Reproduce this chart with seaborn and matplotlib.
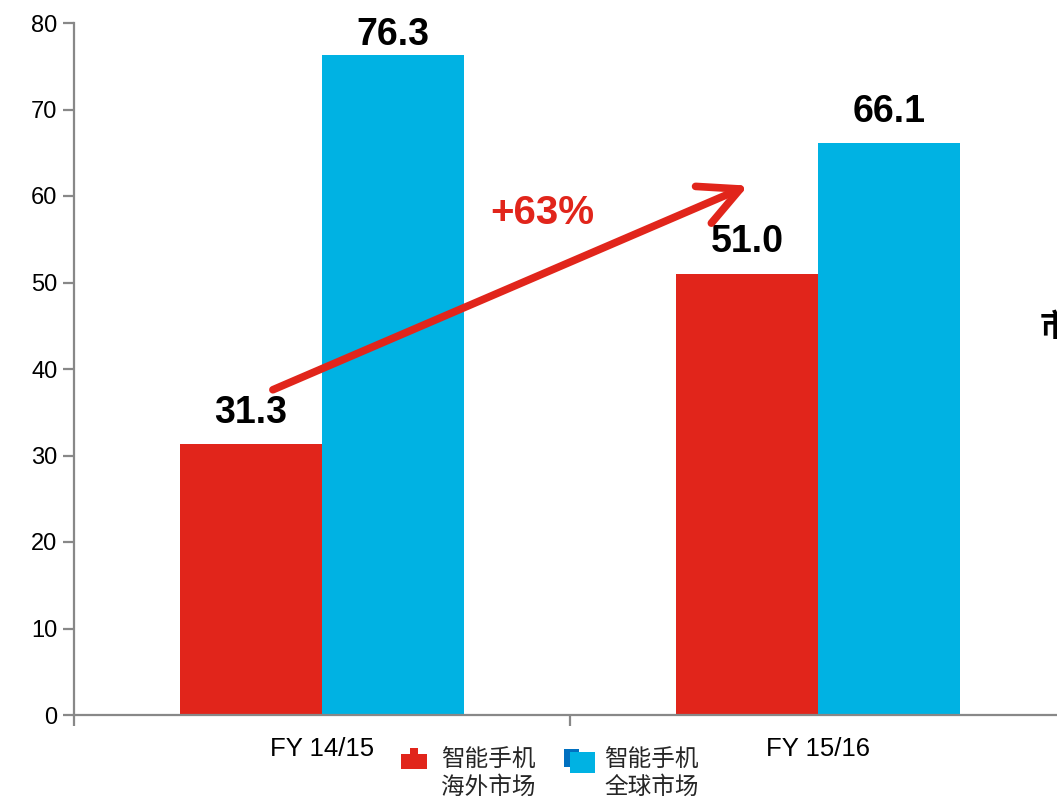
import matplotlib
matplotlib.use("Agg")
import matplotlib.pyplot as plt
import seaborn as sns
import pandas as pd
from matplotlib.patches import Patch, Rectangle
from matplotlib.legend_handler import HandlerBase

categories = ["FY 14/15", "FY 15/16"]
series = ["智能手机\n海外市场", "智能手机\n全球市场"]
overseas = [31.3, 51.0]
global_mkt = [76.3, 66.1]
growth_label = "+63%"
colors = ["#E1251B", "#00B2E3"]
shadow_colors = ["#E1251B", "#0070C0"]

sns.set_theme(style="white")
plt.rcParams["font.family"] = ["Liberation Sans", "Noto Sans CJK SC", "DejaVu Sans"]

df = pd.DataFrame({
    "cat": categories * 2,
    "series": [series[0]] * 2 + [series[1]] * 2,
    "value": overseas + global_mkt,
})

fig = plt.figure(figsize=(10.57, 7.98), dpi=100)
ax = fig.add_axes([74 / 1057, 83 / 798, 992 / 1057, 692 / 798])
sns.barplot(data=df, x="cat", y="value", hue="series", hue_order=series,
            order=categories, palette=colors, width=0.572, saturation=1,
            ax=ax, legend=False, linewidth=0, edgecolor="none")

ax.set_xlim(-0.5, 1.5)
ax.set_ylim(0, 80)
ax.set_yticks(range(0, 81, 10))
ax.set_xlabel("")
ax.set_ylabel("")
for s in ["top", "right"]:
    ax.spines[s].set_visible(False)
for s in ["left", "bottom"]:
    ax.spines[s].set_color("#888888")
    ax.spines[s].set_linewidth(1.6)
ax.tick_params(axis="y", direction="out", length=8, width=1.6, color="#888888",
               labelsize=17, pad=4, left=True, labelcolor="black")
ax.tick_params(axis="x", which="major", length=0, labelsize=18.5, pad=16,
               labelcolor="black")
ax.set_xticks([-0.5, 0.5, 1.5], minor=True)
ax.tick_params(axis="x", which="minor", direction="out", length=8, width=1.6,
               color="#888888", bottom=True)
ax.set_facecolor("none")

# value labels
for cont in ax.containers:
    for bar in cont:
        h = bar.get_height()
        xc = bar.get_x() + bar.get_width() / 2
        yb = min(h + 2.5, 77.45)
        ax.text(xc, yb, f"{h:.1f}", ha="center", va="baseline", fontsize=27,
                fontweight="bold", color="black", clip_on=False)

# growth arrow
ax.annotate("", xy=(0.859, 61.2), xytext=(-0.099, 37.6),
            arrowprops=dict(arrowstyle="->,head_length=2.4,head_width=1.2",
                            color=colors[0], lw=5.5, shrinkA=0, shrinkB=0))
ax.text(0.444, 58.0, growth_label, ha="center", va="center", fontsize=29,
        fontweight="bold", color=colors[0])

fig.text(1040 / 1057, 0.59, "市", ha="left", va="center", fontsize=22,
         fontweight="bold", color="black", family=["Noto Sans CJK SC"])


class TopHandler(HandlerBase):
    def __init__(self, color, shadow, kind):
        super().__init__()
        self.color = color
        self.shadow = shadow
        self.kind = kind

    def create_artists(self, legend, orig_handle, xdescent, ydescent, width,
                       height, fontsize, trans):
        up = fontsize * 0.58
        x0, y0 = -xdescent, -ydescent + up
        arts = []
        if self.kind == "red":
            arts.append(Rectangle((x0 + width * 0.32, y0 + height), width * 0.32,
                                  height * 0.35, facecolor=self.shadow,
                                  edgecolor="none", transform=trans))
            arts.append(Rectangle((x0, y0), width, height, facecolor=self.color,
                                  edgecolor="none", transform=trans))
        else:
            arts.append(Rectangle((x0, y0 + height * 0.1), width * 0.58,
                                  height * 1.2, facecolor=self.shadow,
                                  edgecolor="none", transform=trans))
            arts.append(Rectangle((x0 + width * 0.24, y0 - height * 0.3),
                                  width * 0.96, height * 1.4,
                                  facecolor=self.color, edgecolor="none",
                                  transform=trans))
        return arts


handles = [Patch(facecolor=c, edgecolor="none") for c in colors]
fig.legend(handles, series, loc="center", bbox_to_anchor=(550 / 1057, 0.030),
           ncol=2, frameon=False, handlelength=1.1,
           handleheight=0.6, handletextpad=0.6, columnspacing=1.2,
           borderpad=0, labelspacing=0.2,
           prop={"family": ["Noto Sans CJK SC"], "size": 17},
           handler_map={handles[0]: TopHandler(colors[0], shadow_colors[0], "red"),
                        handles[1]: TopHandler(colors[1], shadow_colors[1], "blue")})

fig.savefig("out.png", dpi=100, facecolor="white")
